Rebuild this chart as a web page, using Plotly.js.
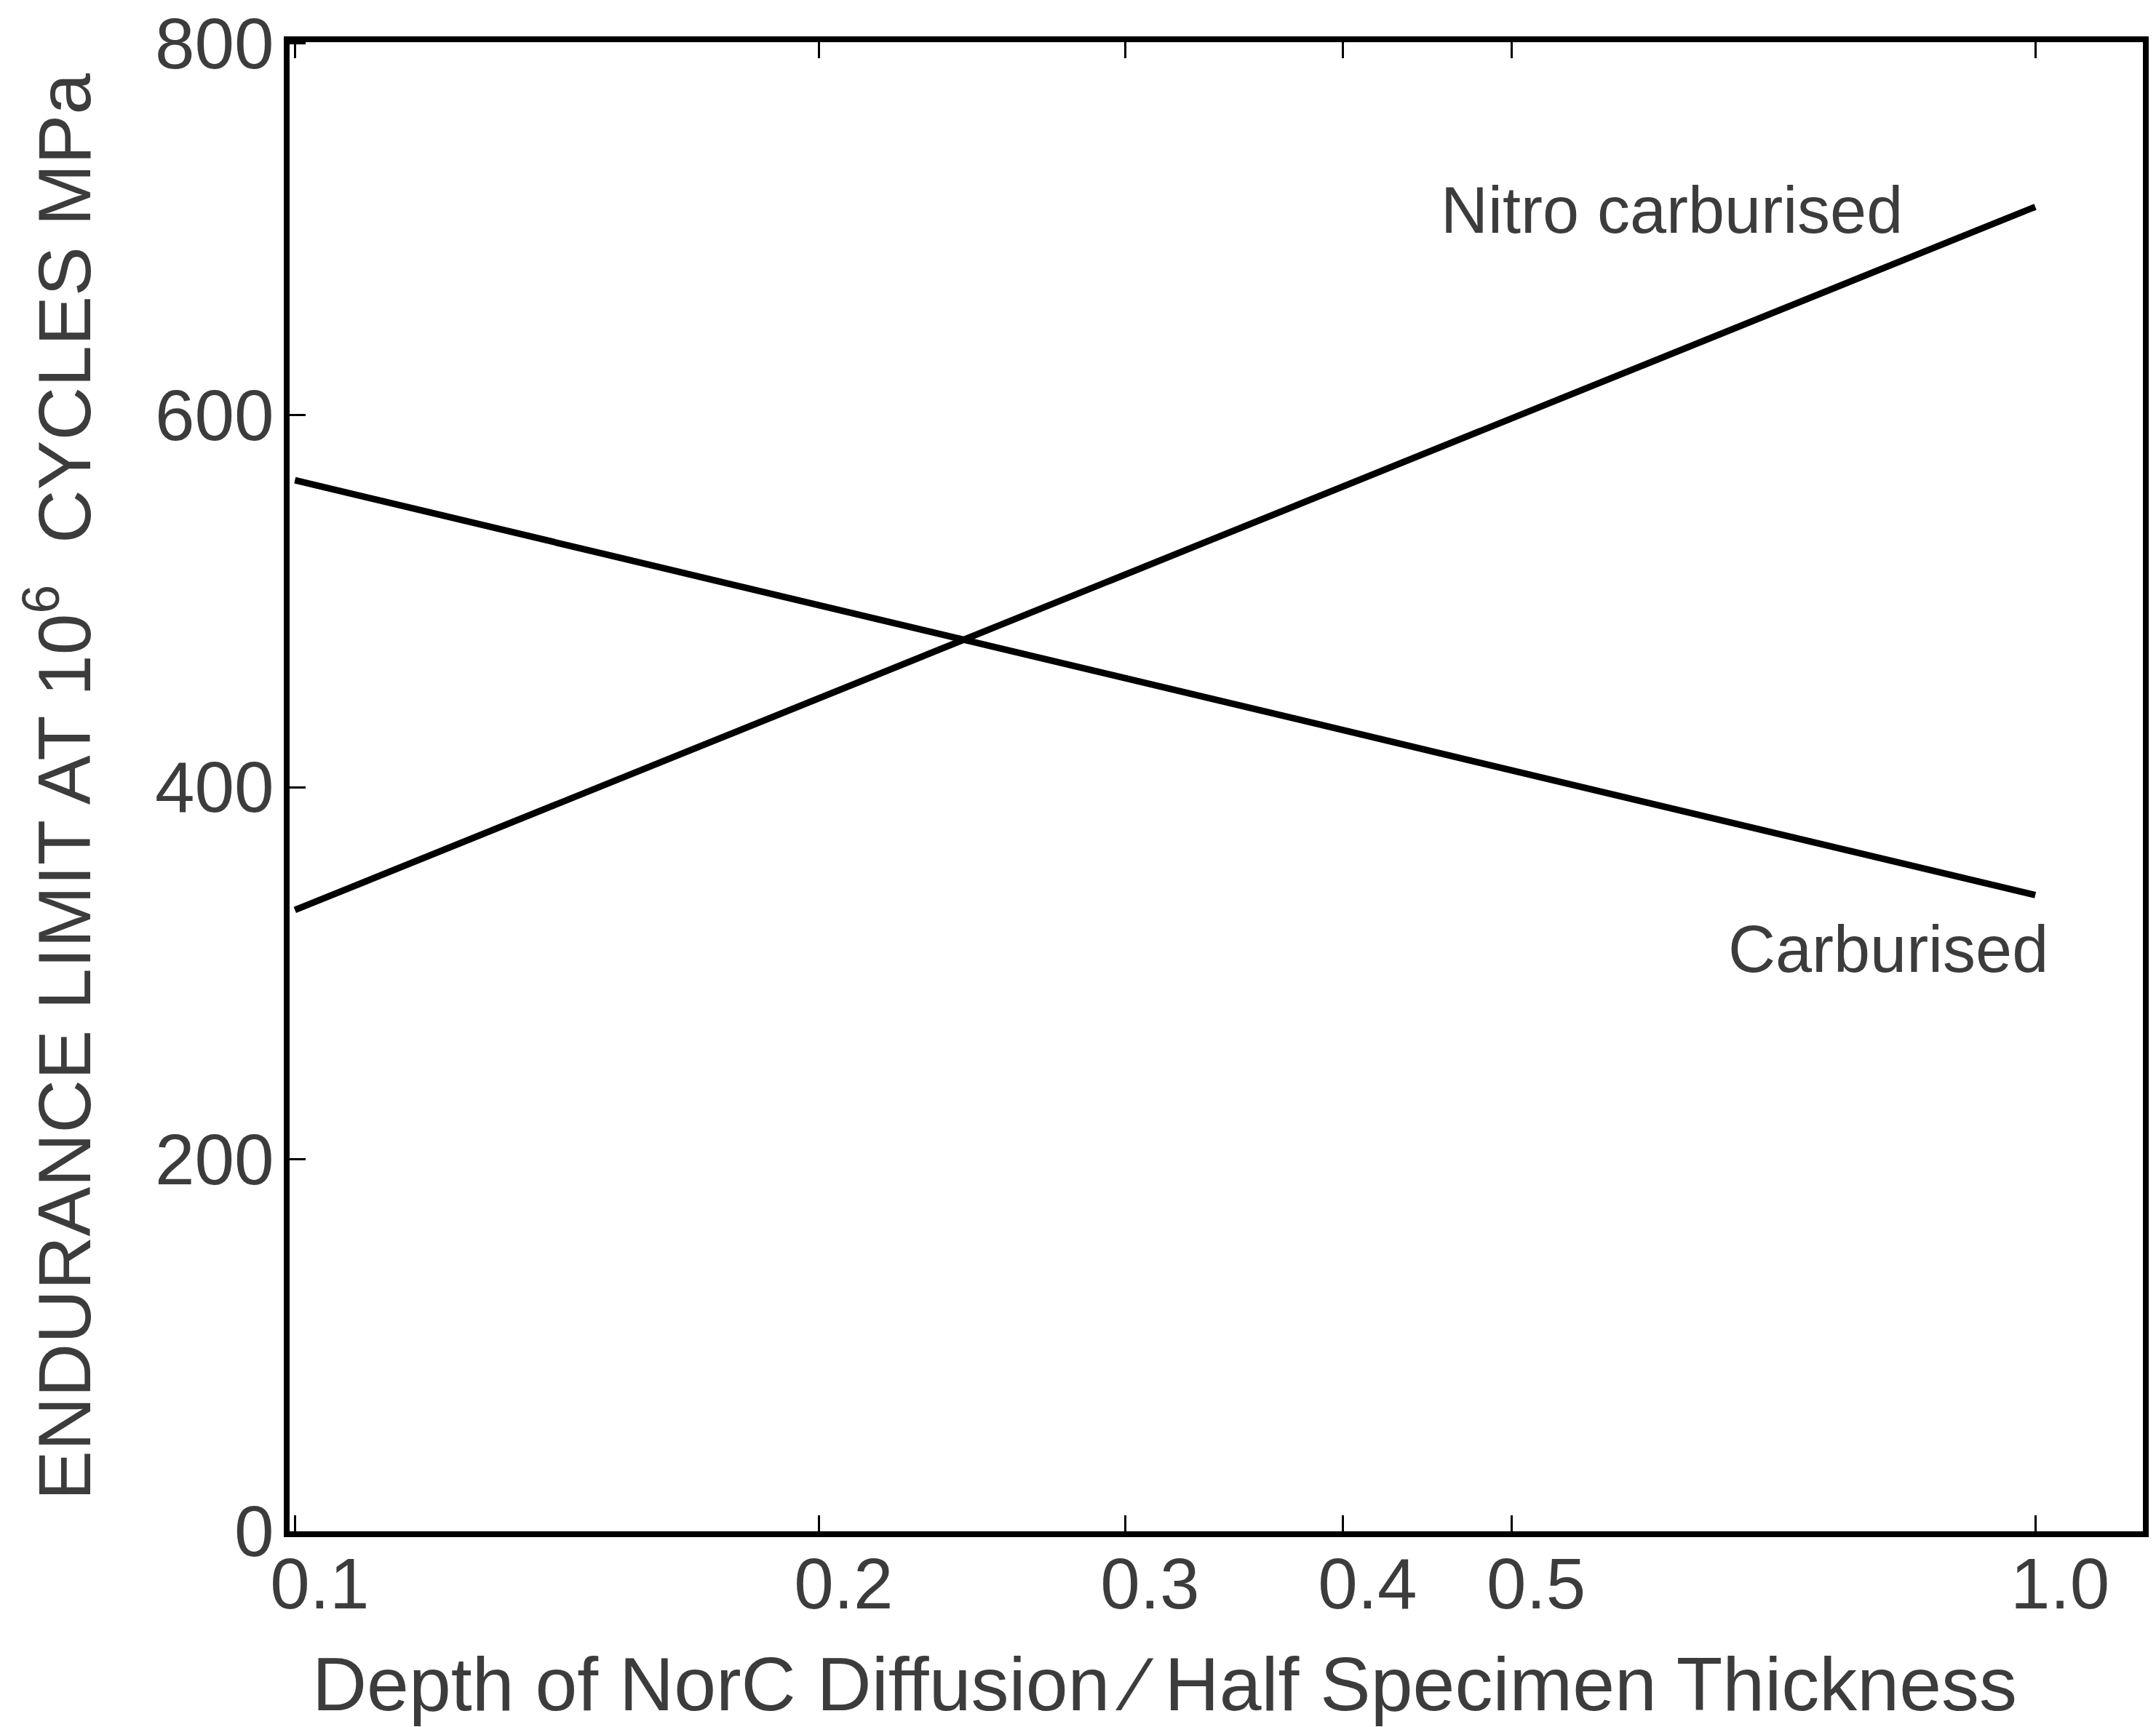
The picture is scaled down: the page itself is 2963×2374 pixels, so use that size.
<!DOCTYPE html>
<html>
<head>
<meta charset="utf-8">
<script src="https://cdn.plot.ly/plotly-3.0.1.min.js"></script>
<style>
  html, body { margin: 0; padding: 0; background: #ffffff; }
  #chart { width: 2963px; height: 2374px; }
</style>
</head>
<body>
<div id="chart"></div>
<script>
// Data
const depthRatio = [0.1, 1.0];
const carburised = [565, 342];
const nitroCarburised = [334, 712];

const xTickVals = [0.1, 0.2, 0.3, 0.4, 0.5, 1.0];
const xTickText = ["0.1", "0.2", "0.3", "0.4", "0.5", "1.0"];
const yTickVals = [0, 200, 400, 600, 800];
const yTickText = ["0", "200", "400", "600", "800"];

const xTitle = "Depth of NorC Diffusion \u2215 Half Specimen Thickness";
const yTitle = "ENDURANCE LIMIT AT 10<sup>6</sup>  CYCLES MPa";

const FONT = "Liberation Sans Narrow, Liberation Sans, Arial, sans-serif";
const TEXT = "#3c3c3c";

const traces = [
  {
    x: depthRatio, y: carburised, mode: "lines", name: "Carburised",
    line: { color: "#000000", width: 9 }, showlegend: false, hoverinfo: "skip"
  },
  {
    x: depthRatio, y: nitroCarburised, mode: "lines", name: "Nitro carburised",
    line: { color: "#000000", width: 9 }, showlegend: false, hoverinfo: "skip"
  }
];

const layout = {
  width: 2963, height: 2374,
  paper_bgcolor: "#ffffff", plot_bgcolor: "#ffffff",
  margin: { l: 398, r: 18, t: 58, b: 269 },
  showlegend: false,
  font: { family: FONT, color: TEXT, size: 100 },
  xaxis: {
    type: "log",
    range: [Math.log10(0.0993), Math.log10(1.153)],
    tickvals: xTickVals, ticktext: xTickText,
    ticks: "inside", ticklen: 22, tickwidth: 3, tickcolor: "#000",
    showline: true, linecolor: "#000", linewidth: 8, mirror: "ticks",
    showgrid: false, zeroline: false,
    tickfont: { family: FONT, size: 98, color: TEXT },
    ticklabelshift: 34, ticklabelstandoff: -20,
    ticklabeloverflow: "allow",
    automargin: false
  },
  yaxis: {
    range: [0, 800.5],
    tickvals: yTickVals, ticktext: yTickText,
    ticks: "inside", ticklen: 22, tickwidth: 3, tickcolor: "#000",
    showline: true, linecolor: "#000", linewidth: 8, mirror: true,
    showgrid: false, zeroline: false,
    tickfont: { family: FONT, size: 98, color: TEXT },
    ticklabelstandoff: -6,
    ticklabeloverflow: "allow",
    title: {
      text: yTitle,
      font: { family: FONT, size: 102, color: TEXT },
      standoff: 57
    },
    automargin: false
  },
  annotations: [
    {
      // x-axis title, placed to match the reference's off-centre position
      x: 0.4723, y: -0.1025, xref: "paper", yref: "paper",
      text: xTitle, showarrow: false,
      font: { family: "Liberation Sans, Arial, sans-serif", size: 104, color: TEXT },
      xanchor: "center", yanchor: "middle"
    },
    {
      x: Math.log10(0.618), y: 710, xref: "x", yref: "y",
      text: "Nitro carburised", showarrow: false,
      font: { family: FONT, size: 90, color: TEXT },
      xanchor: "center", yanchor: "middle"
    },
    {
      x: Math.log10(0.823), y: 313, xref: "x", yref: "y",
      text: "Carburised", showarrow: false,
      font: { family: FONT, size: 90, color: TEXT },
      xanchor: "center", yanchor: "middle"
    }
  ]
};

Plotly.newPlot("chart", traces, layout, { staticPlot: true, displayModeBar: false });
</script>
</body>
</html>
